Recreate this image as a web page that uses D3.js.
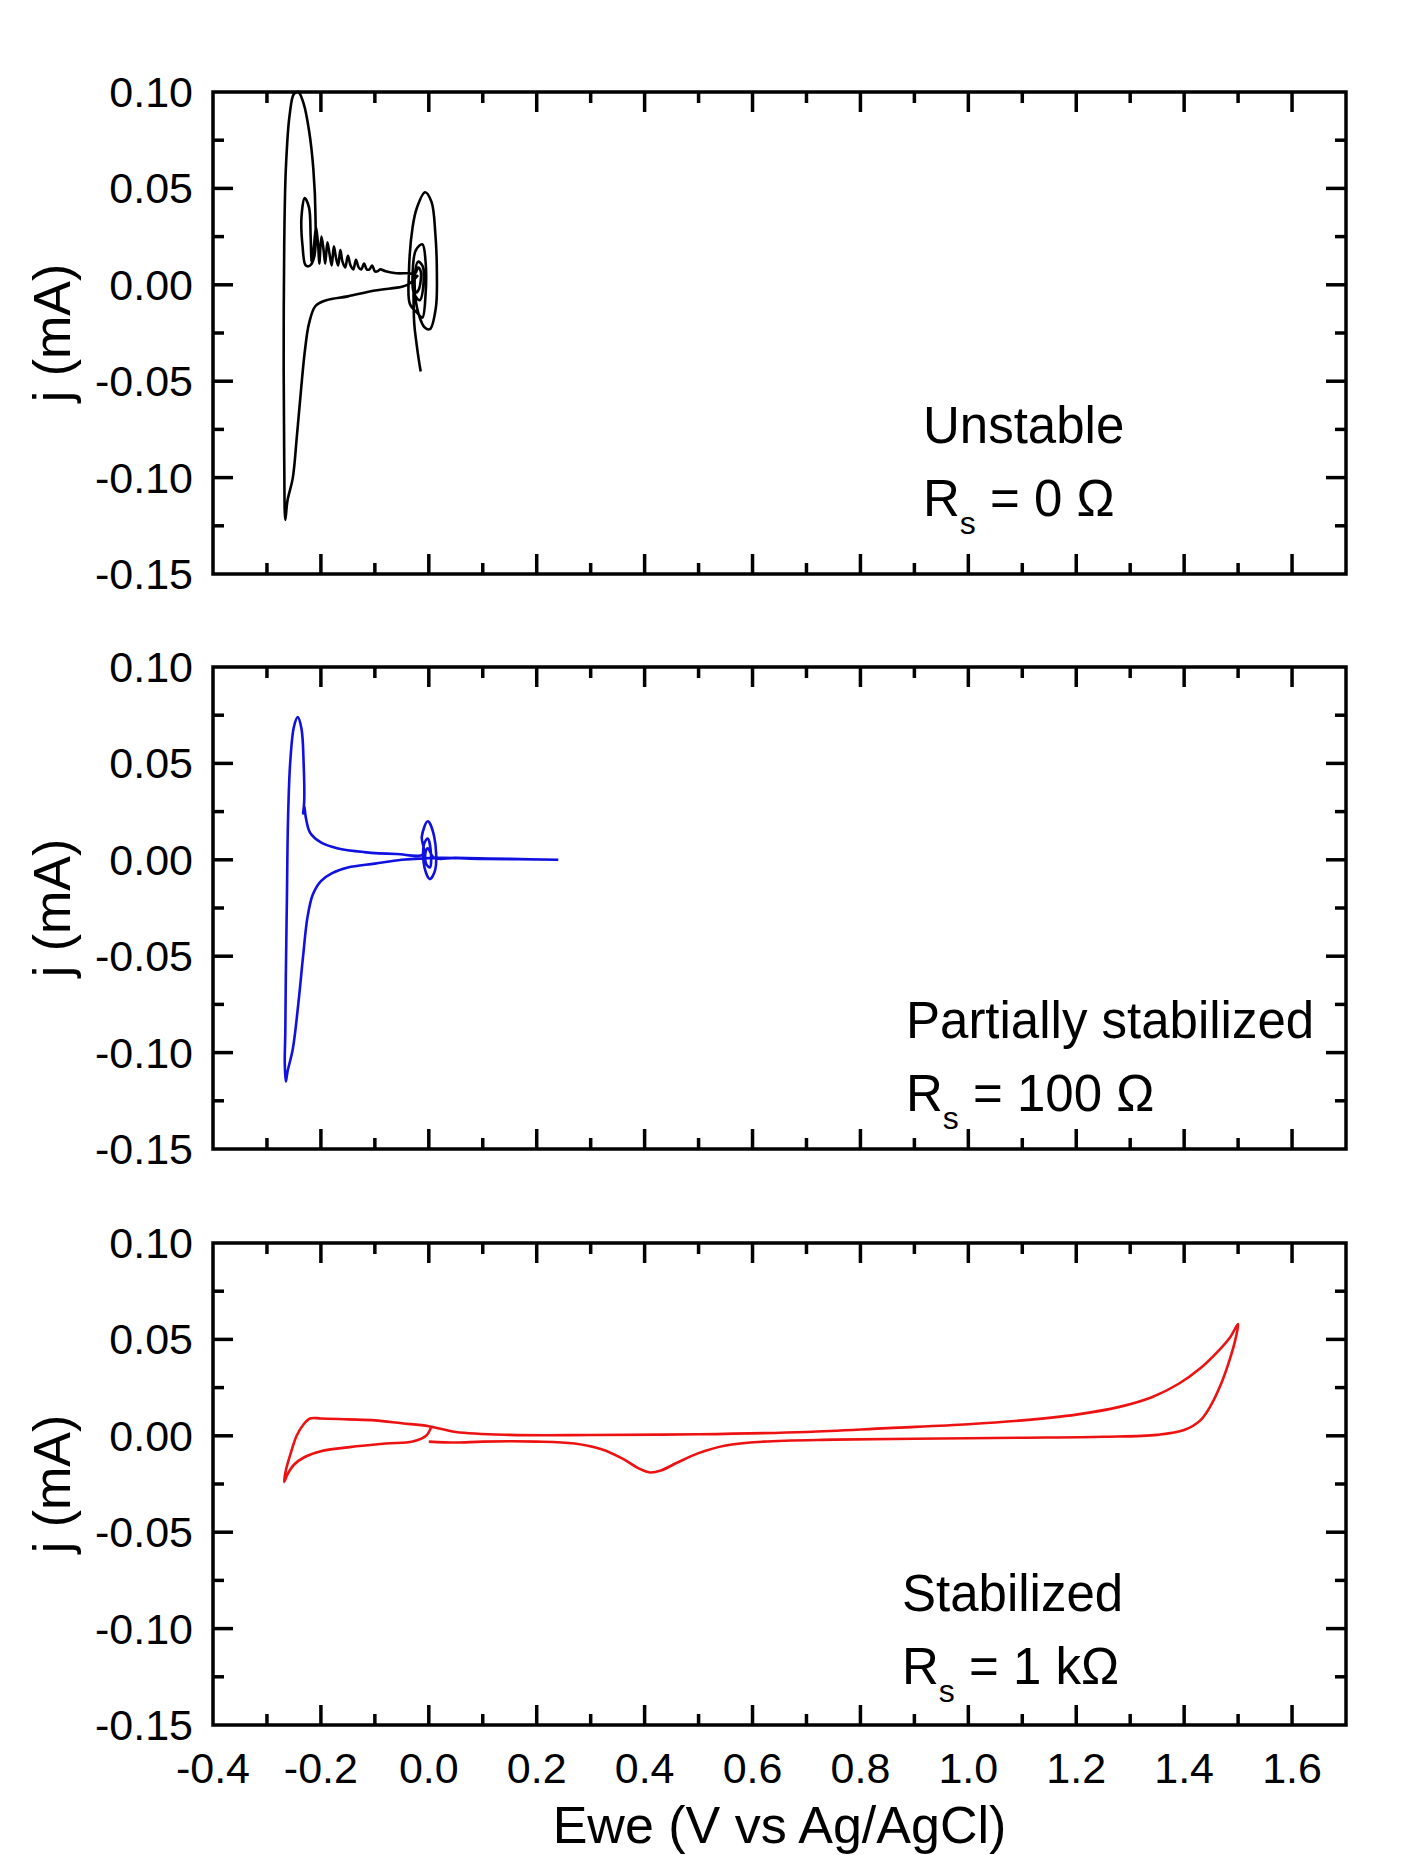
<!DOCTYPE html>
<html><head><meta charset="utf-8">
<script src="https://cdn.jsdelivr.net/npm/d3@7"></script>
<style>body{margin:0;background:#fff}svg{font-family:"Liberation Sans",Arial,sans-serif}</style>
</head><body><svg id="c" width="1417" height="1855"></svg>
<script>
const xTicks=[-0.4,-0.2,0.0,0.2,0.4,0.6,0.8,1.0,1.2,1.4,1.6];
const yTicks=[-0.15,-0.10,-0.05,0.00,0.05,0.10];
const unstable=[[-0.02,0.005],[-0.03,0.002],[-0.04,0.0],[-0.05,-0.001],[-0.1,-0.003],[-0.15,-0.006],[-0.19,-0.008],[-0.21,-0.011],[-0.222,-0.02],[-0.23,-0.035],[-0.237,-0.055],[-0.245,-0.08],[-0.252,-0.1],[-0.262,-0.112],[-0.266,-0.122],[-0.268,-0.09],[-0.269,-0.04],[-0.268,0.02],[-0.265,0.06],[-0.258,0.088],[-0.25,0.099],[-0.242,0.1],[-0.232,0.094],[-0.222,0.08],[-0.214,0.06],[-0.21,0.035],[-0.212,0.015],[-0.22,0.01],[-0.228,0.01],[-0.234,0.02],[-0.236,0.035],[-0.23,0.045],[-0.222,0.04],[-0.219,0.025],[-0.217,0.012],[-0.213,0.02],[-0.209,0.03],[-0.205,0.02],[-0.203,0.011],[-0.199,0.025],[-0.195,0.018],[-0.192,0.011],[-0.188,0.022],[-0.184,0.016],[-0.18,0.01],[-0.176,0.02],[-0.172,0.014],[-0.168,0.01],[-0.164,0.018],[-0.16,0.012],[-0.155,0.009],[-0.15,0.015],[-0.145,0.01],[-0.14,0.008],[-0.135,0.013],[-0.13,0.009],[-0.125,0.008],[-0.12,0.011],[-0.115,0.008],[-0.11,0.008],[-0.105,0.01],[-0.1,0.007],[-0.095,0.007],[-0.09,0.008],[-0.08,0.007],[-0.06,0.006],[-0.04,0.006],[-0.025,0.006],[-0.02,0.009],[-0.015,0.007],[-0.018,-0.002],[-0.024,-0.004],[-0.026,0.004],[-0.02,0.012],[-0.012,0.01],[-0.01,0.0],[-0.017,-0.008],[-0.028,-0.004],[-0.03,0.006],[-0.024,0.018],[-0.012,0.021],[-0.006,0.012],[-0.006,-0.005],[-0.012,-0.017],[-0.02,-0.015],[-0.035,-0.01],[-0.037,0.005],[-0.03,0.03],[-0.022,0.04],[-0.007,0.048],[0.005,0.043],[0.012,0.027],[0.015,0.005],[0.013,-0.012],[0.002,-0.023],[-0.008,-0.022],[-0.018,-0.016],[-0.025,-0.007],[-0.028,0.002],[-0.027,-0.02],[-0.023,-0.03],[-0.018,-0.04],[-0.015,-0.045]];
const partial=[[0.24,0.0],[0.1,0.0005],[0.02,0.001],[-0.05,-0.0],[-0.1,-0.002],[-0.15,-0.004],[-0.18,-0.007],[-0.2,-0.011],[-0.215,-0.018],[-0.225,-0.03],[-0.233,-0.05],[-0.242,-0.075],[-0.252,-0.098],[-0.262,-0.11],[-0.265,-0.115],[-0.267,-0.105],[-0.266,-0.09],[-0.265,-0.06],[-0.263,-0.02],[-0.261,0.02],[-0.257,0.05],[-0.25,0.069],[-0.243,0.074],[-0.236,0.068],[-0.232,0.05],[-0.231,0.03],[-0.233,0.024],[-0.231,0.028],[-0.228,0.022],[-0.22,0.014],[-0.2,0.009],[-0.17,0.006],[-0.12,0.004],[-0.06,0.003],[-0.01,0.003],[-0.013,0.012],[-0.002,0.02],[0.01,0.012],[0.012,-0.005],[0.002,-0.01],[-0.008,-0.004],[-0.009,0.008],[-0.002,0.011],[0.004,0.003],[0.002,-0.004],[-0.005,-0.002],[-0.006,0.004],[-0.002,0.006],[0.01,0.001],[0.05,0.001],[0.15,0.0005],[0.24,0.0]];
const stabilized=[[0.005,0.005],[-0.005,0.0],[-0.03,-0.003],[-0.08,-0.004],[-0.15,-0.006],[-0.2,-0.008],[-0.23,-0.011],[-0.25,-0.015],[-0.262,-0.02],[-0.268,-0.024],[-0.265,-0.018],[-0.257,-0.01],[-0.245,0.0],[-0.232,0.006],[-0.22,0.009],[-0.2,0.009],[-0.15,0.0085],[-0.1,0.008],[-0.05,0.0065],[0.0,0.005],[0.05,0.002],[0.15,0.0005],[0.3,0.0004],[0.5,0.0008],[0.7,0.002],[0.85,0.004],[1.0,0.006],[1.1,0.008],[1.2,0.011],[1.28,0.015],[1.34,0.02],[1.39,0.027],[1.43,0.035],[1.46,0.043],[1.485,0.051],[1.5,0.058],[1.495,0.05],[1.485,0.04],[1.47,0.028],[1.45,0.016],[1.43,0.008],[1.4,0.003],[1.35,0.0005],[1.25,-0.0005],[1.1,-0.001],[0.9,-0.0015],[0.75,-0.002],[0.62,-0.003],[0.55,-0.005],[0.5,-0.009],[0.46,-0.014],[0.43,-0.018],[0.41,-0.019],[0.39,-0.017],[0.36,-0.012],[0.32,-0.007],[0.27,-0.004],[0.2,-0.003],[0.1,-0.003],[0.05,-0.0035],[0.0,-0.003]];
const panels=[
 {data:unstable,color:"#000",top:92,labels:["Unstable","0 Ω"],tx:923,ty:[443,516]},
 {data:partial,color:"#1010e0",top:667,labels:["Partially stabilized","100 Ω"],tx:906,ty:[1038,1111]},
 {data:stabilized,color:"#ee1111",top:1243,labels:["Stabilized","1 kΩ"],tx:902,ty:[1611,1684]}];
const svg=d3.select("#c");
const L=213,R=1346,H=482;
const x=d3.scaleLinear().domain([-0.4,1.7]).range([L,R]);
const xMinor=d3.range(-0.3,1.7,0.2).map(v=>+v.toFixed(2));
const yMinor=[-0.125,-0.075,-0.025,0.025,0.075];
panels.forEach((p,i)=>{
 const y=d3.scaleLinear().domain([-0.15,0.10]).range([p.top+H,p.top]);
 const g=svg.append("g");
 g.append("path").datum(p.data).attr("fill","none").attr("stroke",p.color).attr("stroke-width",2.6).attr("stroke-linejoin","round")
  .attr("d",d3.line().curve(d3.curveCatmullRom.alpha(0.5)).x(d=>x(d[0])).y(d=>y(d[1])));
 g.append("rect").attr("x",L).attr("y",p.top).attr("width",R-L).attr("height",H).attr("fill","none").attr("stroke","#000").attr("stroke-width",3.5);
 const tk=(x1,y1,x2,y2)=>g.append("line").attr("x1",x1).attr("y1",y1).attr("x2",x2).attr("y2",y2).attr("stroke","#000").attr("stroke-width",3.5);
 xTicks.forEach(v=>{const X=x(v); if(X<=L+1)return; tk(X,p.top+H,X,p.top+H-20); tk(X,p.top,X,p.top+20);});
 xMinor.forEach(v=>{const X=x(v); tk(X,p.top+H,X,p.top+H-11); tk(X,p.top,X,p.top+11);});
 yTicks.forEach(v=>{const Y=y(v); if(v===-0.15||v===0.10)return; tk(L,Y,L+20,Y); tk(R,Y,R-20,Y);});
 yMinor.forEach(v=>{const Y=y(v); tk(L,Y,L+11,Y); tk(R,Y,R-11,Y);});
 yTicks.forEach(v=>g.append("text").attr("x",L-20).attr("y",y(v)+15).attr("text-anchor","end").attr("font-size",43).text(v.toFixed(2)));
 g.append("text").attr("transform",`translate(70,${p.top+H/2}) rotate(-90)`).attr("text-anchor","middle").attr("font-size",52).text("j (mA)");
 g.append("text").attr("x",p.tx).attr("y",p.ty[0]).attr("font-size",51).text(p.labels[0]);
 const t=g.append("text").attr("x",p.tx).attr("y",p.ty[1]).attr("font-size",51);
 t.append("tspan").text("R");
 t.append("tspan").attr("font-size",32).attr("dy",18).text("s");
 t.append("tspan").attr("dy",-18).text(" = "+p.labels[1]);
 if(i===2){
  xTicks.forEach(v=>g.append("text").attr("x",x(v)).attr("y",p.top+H+58).attr("text-anchor","middle").attr("font-size",43).text(v.toFixed(1)));
  g.append("text").attr("x",x(0.65)).attr("y",1843).attr("text-anchor","middle").attr("font-size",52).text("Ewe (V vs Ag/AgCl)");
 }
});
</script></body></html>
